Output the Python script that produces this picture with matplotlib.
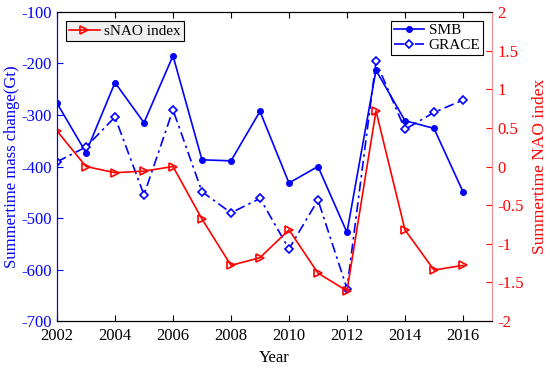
import matplotlib
matplotlib.use('Agg')
import matplotlib.pyplot as plt

years = list(range(2002, 2017))
smb = [-277, -373, -237, -315, -185, -387, -389, -293, -432, -400, -528, -213, -311, -326, -449]
grace = [-391, -362, -304, -455, -290, -449, -490, -462, -560, -465, -637, -196, -328, -295, -271]
snao = [0.46, 0.0, -0.08, -0.06, 0.0, -0.68, -1.28, -1.18, -0.82, -1.38, -1.61, 0.72, -0.82, -1.34, -1.28]

plt.rcParams['font.family'] = ['Liberation Serif', 'DejaVu Serif']
plt.rcParams['font.size'] = 12
plt.rcParams['axes.unicode_minus'] = False

fig = plt.figure(figsize=(5.5, 3.68), dpi=100)
ax = fig.add_axes([0.1036, 0.1277, 0.7909, 0.8397])
ax2 = ax.twinx()

blue = (0, 0, 1)
red = (1, 0, 0)

l1, = ax.plot(years, smb, '-o', color=blue, lw=1.2, ms=4, label='SMB')
l2, = ax.plot(years, grace, color=blue, lw=1.2, ls=(0, (6, 2.5, 1.5, 2.5)), marker='D', ms=4,
              mfc='white', mew=1.2, label='GRACE')
l3, = ax2.plot(years, snao, '->', color=red, lw=1.2, ms=6, mfc='none', mew=1.2, label='sNAO index')

ax.set_xlim(2002, 2017)
ax.set_ylim(-700, -100)
ax2.set_ylim(-2, 2)
ax.set_xticks(range(2002, 2017, 2))
ax.set_yticks(range(-700, 0, 100))
ax2.set_yticks([-2, -1.5, -1, -0.5, 0, 0.5, 1, 1.5, 2])
ax2.set_yticklabels(['-2', '-1.5', '-1', '-0.5', '0', '0.5', '1', '1.5', '2'])

ax.tick_params(axis='x', direction='in', top=True, length=4, colors='black', pad=5)
ax.tick_params(axis='y', direction='in', length=4, colors=blue, pad=4)
ax2.tick_params(axis='y', direction='in', length=4, colors=red, pad=4)
ax.spines['left'].set_color(blue)
ax2.spines['left'].set_color(blue)
ax2.spines['right'].set_color((1, 0.55, 0.55))
ax.spines['right'].set_visible(False)

ax.set_xlabel('Year', fontsize=12, labelpad=4)
ax.set_ylabel('Summertime mass change(Gt)', color=blue, fontsize=12)
ax.yaxis.set_label_coords(-0.084, 0.5)
ax2.set_ylabel('Summertime NAO index', color=red, fontsize=12.5, labelpad=6)

leg1 = ax2.legend(handles=[l1, l2], loc='upper right', fancybox=False, edgecolor='black',
                  fontsize=11, borderpad=0.15, handlelength=2.0, handletextpad=0.3,
                  labelspacing=0.1, borderaxespad=0.6, framealpha=1)
leg1.get_frame().set_linewidth(0.8)
ax2.add_artist(leg1)
leg2 = ax2.legend(handles=[l3], loc='upper left', fancybox=False, edgecolor='black',
                  fontsize=11, borderpad=0.2, handlelength=2.0, handletextpad=0.3,
                  borderaxespad=0.6, facecolor=(0.94, 0.94, 0.94), framealpha=1)
leg2.get_frame().set_linewidth(0.8)

fig.savefig('out.png', dpi=100)
